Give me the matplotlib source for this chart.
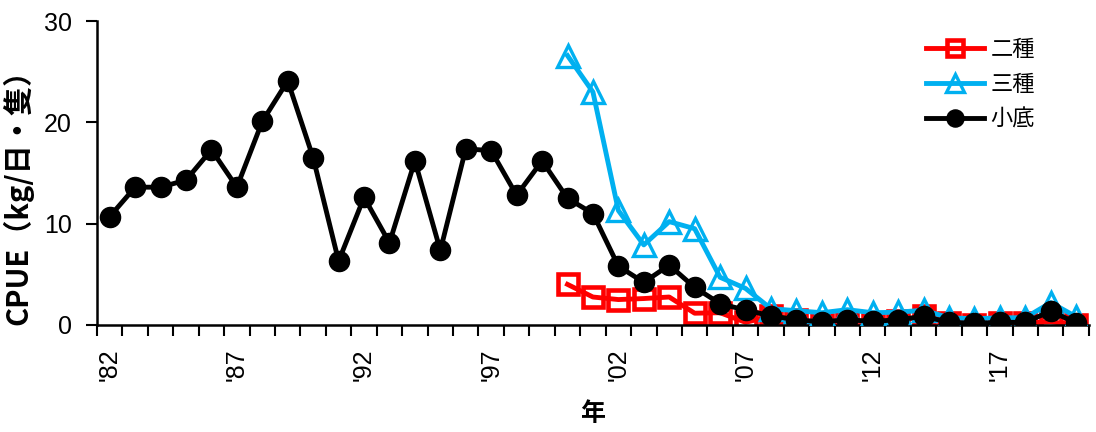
import numpy as np
import matplotlib
matplotlib.use('Agg')
import matplotlib.pyplot as plt

plt.rcParams['font.family'] = ['Liberation Sans', 'Noto Sans CJK JP', 'DejaVu Sans']

years = list(range(1982, 2021))

# 小底 (1982-2020)
kosoko = [10.7, 13.6, 13.6, 14.3, 17.3, 13.6, 20.1, 24.1, 16.5, 6.3,
          12.6, 8.1, 16.2, 7.35, 17.4, 17.2, 12.8, 16.2, 12.5, 11.0,
          5.8, 4.2, 5.9, 3.7, 2.1, 1.45, 0.9, 0.5, 0.3, 0.5,
          0.35, 0.5, 0.85, 0.25, 0.15, 0.25, 0.25, 1.35, 0.2]

# 二種 / 三種 (2000-2020)
years2 = list(range(2000, 2021))
nishu = [4.0, 2.75, 2.5, 2.6, 2.75, 1.15, 1.2, 0.25, 0.85, 0.5,
         0.0, 0.15, 0.0, 0.4, 0.85, 0.15, 0.0, 0.15, 0.2, 0.3, 0.0]
sanshu = [26.6, 23.0, 11.3, 7.9, 10.2, 9.5, 4.7, 3.6, 1.6, 1.4,
          1.2, 1.5, 1.2, 1.25, 1.45, 0.7, 0.6, 0.7, 0.7, 2.2, 0.8]

fig = plt.figure(figsize=(10.96, 4.32), dpi=100)
ax = fig.add_axes([0.0885, 0.248, 0.905, 0.703])

ax.plot(years2, nishu, color='#FF0000', lw=3.5, marker='s', ms=14,
        mfc='none', mew=3.3, label='二種', zorder=2)
ax.plot(years2, sanshu, color='#00B0F0', lw=3.5, marker='^', ms=16,
        mfc='none', mew=2.4, label='三種', zorder=3)
ax.plot(years, kosoko, color='black', lw=3.5, marker='o', ms=14.5,
        label='小底', zorder=4)

ax.set_xlim(1981.5, 2020.5)
ax.set_ylim(0, 30)
ax.set_yticks([0, 10, 20, 30])

# ticks at category boundaries, labels every 5 years
ax.set_xticks(np.arange(1981.5, 2021, 1.0))
ax.set_xticklabels([])
ax.set_xticks(range(1982, 2021, 5), minor=True)
ax.set_xticklabels(["'%02d" % (y % 100) for y in range(1982, 2021, 5)],
                   minor=True, rotation=90)
ax.tick_params(axis='x', which='major', length=8, width=1.5, direction='out')
ax.tick_params(axis='x', which='minor', length=0, pad=17, labelsize=18)
ax.tick_params(axis='y', length=8, width=1.5, direction='out', pad=10,
               labelsize=18)

for s in ['top', 'right']:
    ax.spines[s].set_visible(False)
for s in ['left', 'bottom']:
    ax.spines[s].set_linewidth(1.8)

ax.set_ylabel('CPUE（kg/日・隻）', fontsize=21, fontweight='bold',
              family=['Noto Sans CJK JP'])
ax.yaxis.set_label_coords(-0.0645, 0.445)
ax.set_xlabel('年', fontsize=18, fontweight='bold', family='Noto Sans CJK JP',
              labelpad=15)

leg = ax.legend(loc='upper right', bbox_to_anchor=(0.966, 1.012), frameon=False,
                prop={'family': 'Noto Sans CJK JP', 'size': 16},
                handlelength=2.6, handletextpad=0.3, labelspacing=0.55,
                markerscale=0.85)

fig.savefig('out.png', dpi=100)
